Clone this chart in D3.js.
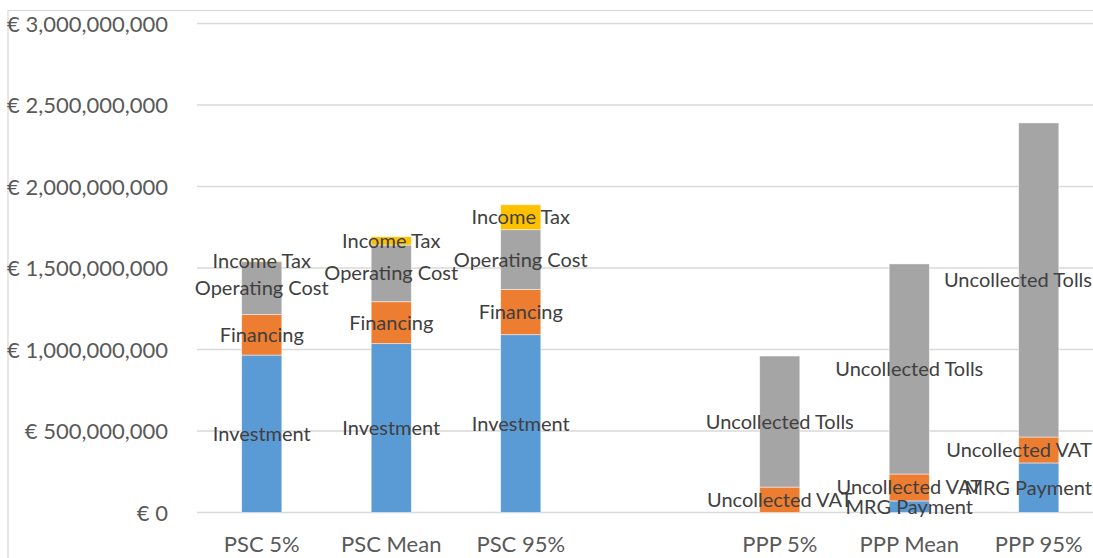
<!DOCTYPE html>
<html>
<head>
<meta charset="utf-8">
<script src="https://cdn.jsdelivr.net/npm/d3@7/dist/d3.min.js"></script>
<style>
  html, body { margin: 0; padding: 0; background: #fff; }
  svg { display: block; }
</style>
</head>
<body>
<svg id="chart" width="1093" height="558"></svg>
<script>
// ---- data (values in euros) ----
const categories = ["PSC 5%", "PSC Mean", "PSC 95%", "", "PPP 5%", "PPP Mean", "PPP 95%"];
const seriesBlue   = [966e6, 1036e6, 1091e6, 0, 0, 71e6, 304e6];
const seriesOrange = [248e6, 257e6, 278e6, 0, 156e6, 165e6, 159e6];
const seriesGray   = [325e6, 348e6, 366e6, 0, 804e6, 1289e6, 1927e6];
const seriesYellow = [5e6, 51e6, 153e6, 0, 0, 0, 0];
const labelsBlue   = ["Investment", "Investment", "Investment", "", "", "MRG Payment", "MRG Payment"];
const labelsOrange = ["Financing", "Financing", "Financing", "", "Uncollected VAT", "Uncollected VAT", "Uncollected VAT"];
const labelsGray   = ["Operating Cost", "Operating Cost", "Operating Cost", "", "Uncollected Tolls", "Uncollected Tolls", "Uncollected Tolls"];
const labelsYellow = ["Income Tax", "Income Tax", "Income Tax", "", "", "", ""];
const yTicks = [0, 500e6, 1000e6, 1500e6, 2000e6, 2500e6, 3000e6];

const layers = [
  { values: seriesBlue,   labels: labelsBlue,   color: "#5B9BD5" },
  { values: seriesOrange, labels: labelsOrange, color: "#ED7D31" },
  { values: seriesGray,   labels: labelsGray,   color: "#A5A5A5" },
  { values: seriesYellow, labels: labelsYellow, color: "#FFC000" }
];

const W = 1093, H = 558;
const plot = { left: 197, right: 1103.5, top: 23.5, bottom: 512.5 };
const font = "Lato, 'Open Sans', sans-serif";

const svg = d3.select("#chart");

// chart frame
svg.append("path")
  .attr("d", `M8,${H} L8,10.5 L${W},10.5`)
  .attr("fill", "none").attr("stroke", "#D9D9D9").attr("stroke-width", 1.2);

const x = d3.scaleBand().domain(d3.range(categories.length))
  .range([plot.left, plot.right]).paddingInner(0.69).paddingOuter(0.345);
const y = d3.scaleLinear().domain([0, 3e9]).range([plot.bottom, plot.top]);

// gridlines
svg.append("g").selectAll("line").data(yTicks).join("line")
  .attr("x1", plot.left).attr("x2", W)
  .attr("y1", d => y(d)).attr("y2", d => y(d))
  .attr("stroke", "#D9D9D9").attr("stroke-width", 1.3);

// y axis labels
const yAxis = d3.axisLeft(y).tickValues(yTicks).tickSize(0)
  .tickFormat(d => "€ " + d3.format(",")(d));
const gy = svg.append("g").attr("transform", `translate(${plot.left},0)`).call(yAxis);
gy.select(".domain").remove();
gy.selectAll("text").attr("x", -29).attr("dy", "0.35em")
  .style("font-family", font).style("font-size", "22px").attr("fill", "#595959");

// x axis labels
const xAxis = d3.axisBottom(x).tickSize(0).tickFormat(i => categories[i]);
const gx = svg.append("g").attr("transform", `translate(0,${plot.bottom})`).call(xAxis);
gx.select(".domain").remove();
gx.selectAll("text").attr("y", 24).attr("dy", "0.71em")
  .style("font-family", font).style("font-size", "22px").attr("fill", "#595959");

// stacked data
const rows = categories.map((c, i) => {
  const r = { i };
  layers.forEach((l, k) => r["s" + k] = l.values[i]);
  return r;
});
const stack = d3.stack().keys(layers.map((l, k) => "s" + k));
const stacked = stack(rows);

const barsG = svg.append("g");
stacked.forEach((s, k) => {
  barsG.append("g").selectAll("rect").data(s.filter(d => d[1] - d[0] > 0)).join("rect")
    .attr("x", d => x(d.data.i))
    .attr("width", x.bandwidth())
    .attr("y", d => y(d[1]))
    .attr("height", d => y(d[0]) - y(d[1]))
    .attr("fill", layers[k].color)
    .attr("stroke", "#ffffff").attr("stroke-opacity", 0.6).attr("stroke-width", 0.8);
});

// data labels
const labG = svg.append("g");
stacked.forEach((s, k) => {
  s.forEach(d => {
    const txt = layers[k].labels[d.data.i];
    if (!txt || d[1] - d[0] <= 0) return;
    const cx = x(d.data.i) + x.bandwidth() / 2;
    const cy = y((d[0] + d[1]) / 2);
    const t = labG.append("text")
      .attr("x", cx).attr("y", cy).attr("dy", "0.35em")
      .attr("text-anchor", "middle")
      .style("font-family", font).style("font-size", "20px")
      .attr("fill", "#404040").text(txt);
    const bb = t.node().getBBox();
    if (bb.x + bb.width > W - 1) t.attr("x", cx - (bb.x + bb.width - (W - 1)));
  });
});
</script>
</body>
</html>
